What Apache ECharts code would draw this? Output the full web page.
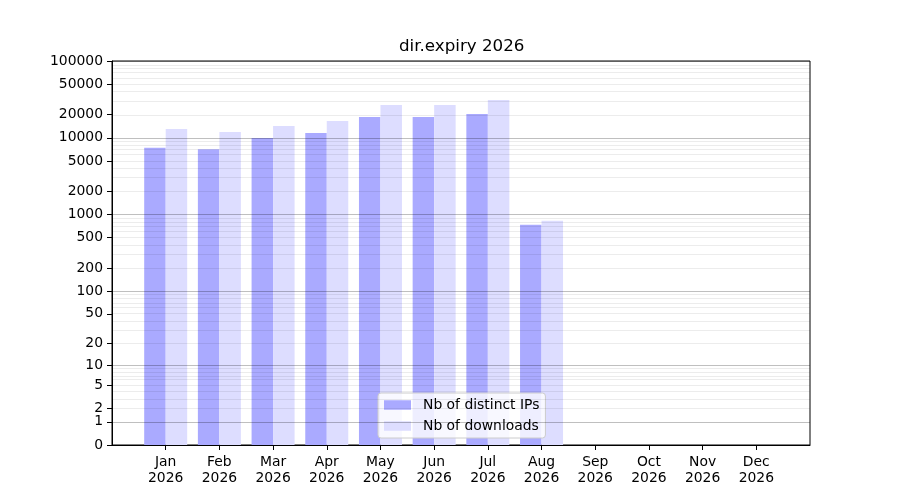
<!DOCTYPE html>
<html>
<head>
<meta charset="utf-8">
<script src="https://cdn.jsdelivr.net/npm/echarts@6/dist/echarts.min.js"></script>
<style>html,body{margin:0;padding:0;background:#fff;}#chart{width:900px;height:500px;}</style>
</head>
<body>
<div id="chart"></div>
<script>
// ---- data ----
const months = ['Jan','Feb','Mar','Apr','May','Jun','Jul','Aug','Sep','Oct','Nov','Dec'];
const year = '2026';
const distinctIPs = [7400, 7100, 9960, 11570, 18680, 18680, 20430, 735, 0, 0, 0, 0];
const downloads = [13000, 11900, 14270, 16570, 26770, 26770, 31100, 829, 0, 0, 0, 0];
const yTickValues = [0, 1, 2, 5, 10, 20, 50, 100, 200, 500, 1000, 2000, 5000, 10000, 20000, 50000, 100000];
const majorGrid = [1, 10, 100, 1000, 10000, 100000];
const minorMultipliers = [2, 3, 4, 5, 6, 7, 8, 9];
const minorDecades = [1, 10, 100, 1000, 10000];

// scale: log10(1 + x)
const tf = v => Math.log10(1 + v);

const cats = [''].concat(months.map(m => m + '\n' + year)).concat(['']);
const pad = arr => [null].concat(arr.map(v => tf(v))).concat([null]);

const minorGrid = [];
minorDecades.forEach(d => minorMultipliers.forEach(k => minorGrid.push(k * d)));

const chart = echarts.init(document.getElementById('chart'));
const font = 'DejaVu Sans';
chart.setOption({
  animation: false,
  textStyle: { fontFamily: font },
  title: {
    text: 'dir.expiry 2026',
    left: 399, top: 38, padding: 0,
    textStyle: { fontFamily: font, fontSize: 16.7, fontWeight: 'normal', color: '#000' }
  },
  grid: { left: 112, right: 90, top: 61, bottom: 55, show: true, borderColor: '#000', borderWidth: 1, backgroundColor: 'transparent' },
  legend: {
    orient: 'vertical',
    left: 378, top: 393,
    padding: [5, 6, 5, 6],
    itemGap: 7,
    itemWidth: 27, itemHeight: 9.5,
    icon: 'rect',
    backgroundColor: 'rgba(255,255,255,0.8)',
    borderColor: '#cccccc', borderWidth: 1, borderRadius: 3,
    data: ['Nb of distinct IPs', 'Nb of downloads'],
    textStyle: { fontFamily: font, fontSize: 13.9, color: '#000', padding: [0, 0, 0, 7] }
  },
  xAxis: {
    type: 'category',
    data: cats,
    boundaryGap: false,
    axisLine: { lineStyle: { color: '#000', width: 1 } },
    axisTick: { length: 5, lineStyle: { color: '#000' }, interval: (i, v) => v !== '' },
    axisLabel: { interval: 0, color: '#000', fontFamily: font, fontSize: 13.9, lineHeight: 16, margin: 9 },
    splitLine: { show: false }
  },
  yAxis: {
    type: 'value',
    min: 0,
    max: tf(100000),
    axisLine: { show: true, lineStyle: { color: '#000', width: 1 } },
    axisTick: { show: true, length: 5, lineStyle: { color: '#000' }, customValues: yTickValues.map(tf) },
    axisLabel: {
      color: '#000', fontFamily: font, fontSize: 13.9, margin: 9, padding: [2, 0, 0, 0],
      customValues: yTickValues.map(tf),
      formatter: val => {
        const hit = yTickValues.find(v => Math.abs(tf(v) - val) < 1e-6);
        return hit === undefined ? '' : String(hit);
      }
    },
    splitLine: { show: false }
  },
  series: [
    {
      name: 'Nb of distinct IPs', type: 'bar', data: pad(distinctIPs),
      barWidth: 21.5, barGap: '0%',
      itemStyle: { color: '#aaaaff' }
    },
    {
      name: 'Nb of downloads', type: 'bar', data: pad(downloads),
      barWidth: 21.5, barGap: '0%',
      itemStyle: { color: '#ddddff' }
    },
    {
      name: 'grid', type: 'line', data: [], z: 10, silent: true,
      markLine: {
        silent: true, symbol: 'none', label: { show: false },
        data: majorGrid.map(v => ({ yAxis: tf(v), lineStyle: { color: 'rgba(0,0,0,0.25)', width: 1, type: 'solid' } }))
          .concat(minorGrid.map(v => ({ yAxis: tf(v), lineStyle: { color: 'rgba(0,0,0,0.075)', width: 1, type: 'solid' } })))
      }
    }
  ]
});
</script>
</body>
</html>
